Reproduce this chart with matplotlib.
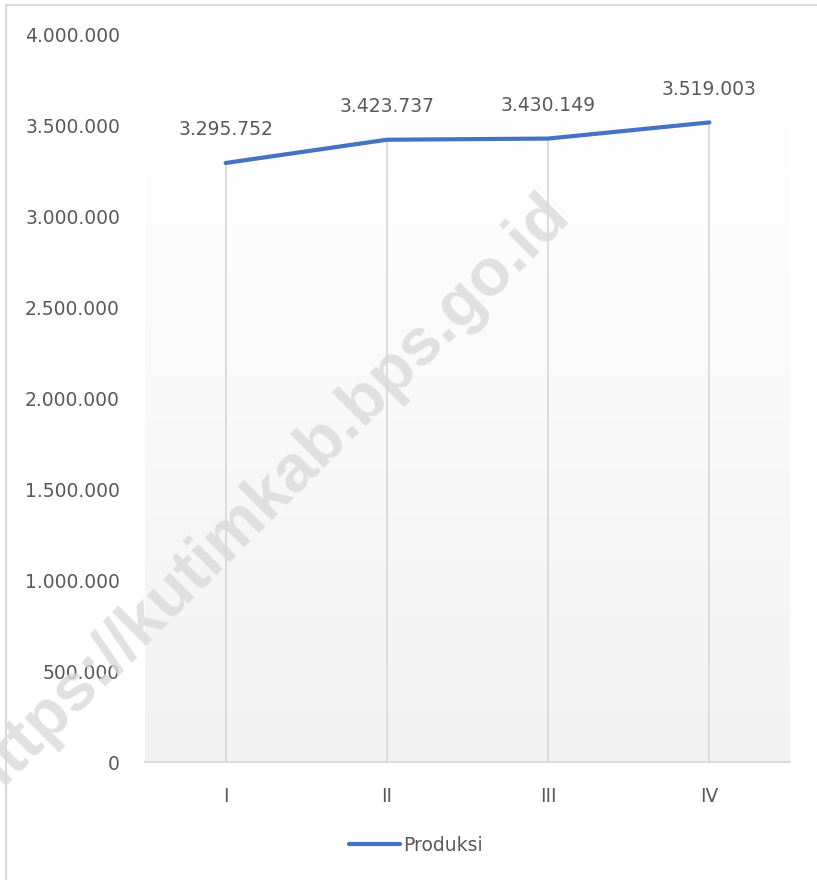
import numpy as np
import matplotlib.pyplot as plt
from matplotlib.patches import Rectangle
from matplotlib.colors import LinearSegmentedColormap

# data
kuartal = ["I", "II", "III", "IV"]
produksi = [3295752, 3423737, 3430149, 3519003]
yticks = [0, 500000, 1000000, 1500000, 2000000, 2500000, 3000000, 3500000, 4000000]


def fmt_titik(v):
    # format angka dengan titik sebagai pemisah ribuan
    return f"{v:,.0f}".replace(",", ".")


plt.rcParams['font.family'] = ['DejaVu Sans']
abu = "#595959"

fig = plt.figure(figsize=(8.17, 8.80), dpi=100)
ax = fig.add_axes([145 / 817, 1 - 762 / 880, 645 / 817, 727 / 880])

x = np.arange(len(kuartal))

# latar gradasi (putih di atas, abu muda di bawah)
grad = np.linspace(0, 1, 256).reshape(-1, 1)
cmap = LinearSegmentedColormap.from_list("g", ["#f2f2f2", "#ffffff"])
ax.imshow(grad, cmap=cmap, aspect="auto",
          extent=(-0.5, len(kuartal) - 0.5, 0, 3500000), origin="lower", zorder=0)
ax.set_xlim(-0.5, len(kuartal) - 0.5)
ax.set_ylim(0, 4000000)

# garis jatuh dari titik ke sumbu
ax.vlines(x, 0, produksi, color="#d9d9d9", lw=1.3, zorder=1)
ax.plot(x, produksi, color="#4472C4", lw=3, solid_capstyle="round",
        label="Produksi", zorder=3)

for xi, v in zip(x, produksi):
    ax.annotate(fmt_titik(v), (xi, v), xytext=(0, 24), textcoords="offset points",
                ha="center", va="center", fontsize=13.5, color=abu)

ax.set_yticks(yticks)
ax.set_yticklabels([fmt_titik(v) for v in yticks])
ax.set_xticks(x)
ax.set_xticklabels(kuartal)
ax.tick_params(axis="y", length=0, pad=18, labelsize=13.5, labelcolor=abu)
ax.tick_params(axis="x", length=0, pad=18, labelsize=13.5, labelcolor=abu)

for s in ["top", "right", "left"]:
    ax.spines[s].set_visible(False)
ax.spines["bottom"].set_color("#d9d9d9")
ax.spines["bottom"].set_linewidth(1.3)

leg = fig.legend(loc="center", bbox_to_anchor=(416 / 817, 1 - 845 / 880), frameon=False,
                 fontsize=13.5, handlelength=2.7, handletextpad=0.15)
for t in leg.get_texts():
    t.set_color(abu)

# bingkai luar (hanya sisi kiri dan atas terlihat)
fig.patches.append(Rectangle((6 / 817, -0.2), 1.2, 1.2 - 5 / 880, transform=fig.transFigure,
                             fill=False, edgecolor="#d9d9d9", lw=1.5))

# watermark
fig.text(266 / 817, 1 - 497 / 880, "https://kutimkab.bps.go.id", rotation=45,
         ha="center", va="center", fontsize=48, fontweight="bold",
         family=["Liberation Sans", "DejaVu Sans"], color="#dadada", alpha=0.8,
         zorder=10)

fig.savefig("out.png", dpi=100)
